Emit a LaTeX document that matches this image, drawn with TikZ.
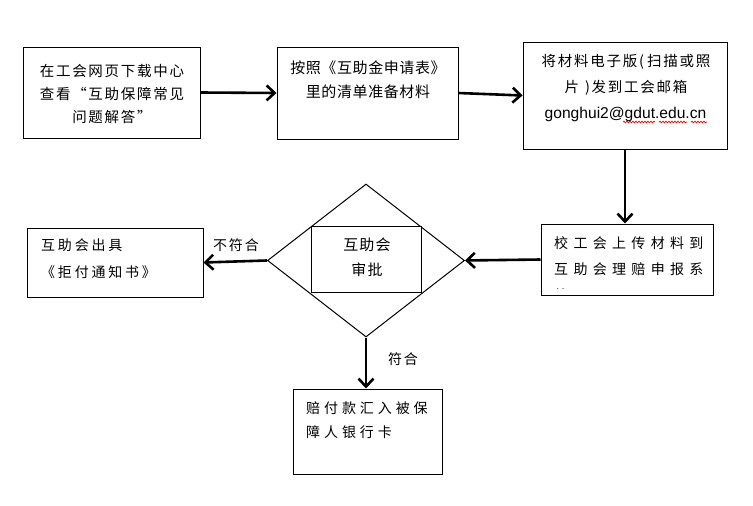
\documentclass[tikz,border=0pt]{standalone}
\usepackage{fontspec}
\setmainfont{Noto Sans CJK SC}
\newfontfamily\emailfont{Liberation Sans}
\usetikzlibrary{arrows.meta,shapes.geometric,decorations.pathmorphing}
\newcommand\cjksize[3]{\fontsize{#1}{#2}\selectfont\addfontfeatures{LetterSpace=#3}}
\begin{document}
\begin{tikzpicture}[x=1pt,y=-1pt,
  box/.style={draw,line width=1pt,rectangle,inner sep=0pt,fill=white},
  txt/.style={inner sep=0pt,text=black},
  arr/.style={line width=2.6pt,-{Straight Barb[length=8pt,width=15pt]}},
  squig/.style={red,line width=0.7pt,decorate,decoration={snake,amplitude=0.9pt,segment length=3pt}},
]
\useasboundingbox (0,0) rectangle (753,506);
\fill[white] (0,0) rectangle (753,506);

% boxes
\node[box,minimum width=177pt,minimum height=91pt] (b1) at (111.5,92.5) {};
\node[box,minimum width=181pt,minimum height=92pt] (b2) at (367.5,93) {};
\node[box,minimum width=204pt,minimum height=107pt] (b3) at (625,95.5) {};
\node[box,minimum width=172pt,minimum height=71pt] (b4) at (627,259.5) {};
\node[box,minimum width=176pt,minimum height=69pt] (bl) at (115,262.5) {};
\node[box,minimum width=149pt,minimum height=85pt] (bb) at (367.5,431.5) {};
\node[draw,line width=1pt,diamond,minimum width=197pt,minimum height=153pt,inner sep=0pt] (dia) at (366,260.5) {};
\node[box,minimum width=110pt,minimum height=66pt] (inner) at (366,259.5) {};

% texts
\node[txt,align=center,font=\cjksize{14.5}{23}{12}] (t1) at (112,94) {在工会网页下载中心\\查看“互助保障常见\\问题解答”};
\node[txt,align=center,font=\cjksize{15}{24}{4}] (t2) at (368,80) {按照《互助金申请表》\\里的清单准备材料};
\node[txt,align=center,font=\cjksize{14.5}{26}{12}] (t3) at (626,75) {将材料电子版(\hspace{3pt}扫描或照\\片\hspace{6pt})发到工会邮箱};
\node[txt,font=\emailfont\fontsize{15.6}{18}\selectfont] (em) at (625.5,114) {gonghui2@gdut.edu.cn};
\draw[squig] (623,122) -- (655,122);
\draw[squig] (659,122) -- (687,122);
\draw[squig] (691,122) -- (707,122);

\begin{scope}
\clip ([shift={(0.5pt,7pt)}]b4.south west) rectangle ([shift={(-0.5pt,-0.5pt)}]b4.north east);
\node[txt,align=left,anchor=west,font=\cjksize{14}{26}{38}] (t4) at (554,269) {校工会上传材料到\\互助会理赔申报系\\统};
\end{scope}

\node[txt,align=left,anchor=west,font=\cjksize{14}{27}{20}] (tl) at (41,258.5) {互助会出具\\《拒付通知书》};
\node[txt,align=center,font=\cjksize{15}{25}{8}] (ti) at (367,257.5) {互助会\\审批};
\node[txt,align=left,anchor=west,font=\cjksize{14}{24}{28}] (tb) at (306,420) {赔付款汇入被保\\障人银行卡};

% arrows
\draw[arr] (b1.east) -- (b2.west);
\draw[arr] (b2.east) -- (b3.west);
\draw[arr] (b3.south) -- (b3.south |- b4.north);
\draw[arr] (b4.west) -- (dia.east);
\draw[arr] (dia.west) -- (bl.east);
\draw[arr] (dia.south) -- (dia.south |- bb.north);

% labels
\node[txt,font=\cjksize{14}{16}{14}] (lno) at (236,245) {不符合};
\node[txt,font=\cjksize{14}{16}{14}] (lyes) at (403,359) {符合};
\end{tikzpicture}
\end{document}
